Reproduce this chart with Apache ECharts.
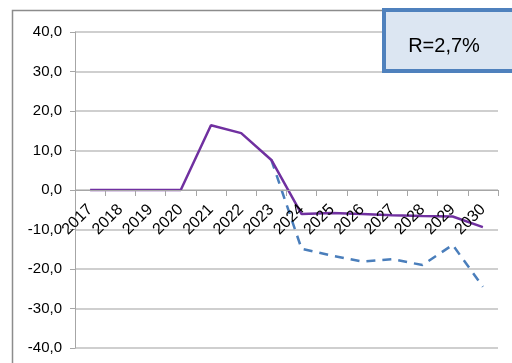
<!DOCTYPE html>
<html>
<head>
<meta charset="utf-8">
<script src="https://cdn.jsdelivr.net/npm/echarts@6/dist/echarts.min.js"></script>
<style>
  html, body { margin: 0; padding: 0; background: #fff; }
  #chart { width: 512px; height: 363px; }
</style>
</head>
<body>
<div id="chart"></div>
<script>
// Years on the category axis
var years = ['2017', '2018', '2019', '2020', '2021', '2022', '2023', '2024',
             '2025', '2026', '2027', '2028', '2029', '2030'];
// Base scenario (solid purple)
var baseSeries = [0, 0, 0, 0, 16.4, 14.4, 7.6, -6.1, -5.8, -6.1, -6.4, -6.6, -6.7, -9.4];
// Alternative scenario (dashed blue), starting from 2023
var altSeries = [null, null, null, null, null, null, 7.6, -14.9, -16.6, -18.1, -17.5, -19.0, -13.9, -24.5];
// Value axis range and step
var yMin = -40, yMax = 40, yStep = 10;
var boxText = 'R=2,7%';

var gridTop = 32, gridBottom = 15, chartH = 363;
var plotH = chartH - gridTop - gridBottom;
// Lift the category axis up to the zero line of the value axis
var zeroOffset = -plotH * (0 - yMin) / (yMax - yMin);

var chart = echarts.init(document.getElementById('chart'));
chart.setOption({
  animation: false,
  backgroundColor: '#ffffff',
  grid: { left: 75, right: 14, top: gridTop, bottom: gridBottom, containLabel: false, outerBoundsMode: 'none' },
  xAxis: {
    type: 'category',
    data: years,
    boundaryGap: true,
    position: 'bottom',
    offset: zeroOffset,
    z: 5,
    axisLine: { show: true, onZero: false, lineStyle: { color: '#a6a6a6', width: 1 } },
    axisTick: { show: true, inside: false, length: 6, alignWithLabel: false,
                lineStyle: { color: '#a6a6a6' } },
    axisLabel: { rotate: 45, margin: 17, color: '#000', fontSize: 16,
                 fontFamily: 'Liberation Sans, Arial, sans-serif', interval: 0 },
    splitLine: { show: false }
  },
  yAxis: {
    type: 'value',
    min: yMin, max: yMax, interval: yStep,
    axisLine: { show: true, lineStyle: { color: '#a6a6a6', width: 1 } },
    axisTick: { show: true, length: 5, lineStyle: { color: '#a6a6a6' } },
    axisLabel: {
      margin: 13, color: '#000', fontSize: 15,
      fontFamily: 'Liberation Sans, Arial, sans-serif',
      formatter: function (v) { return v.toFixed(1).replace('.', ','); }
    },
    splitLine: { show: true, lineStyle: { color: '#bfbfbf', width: 1.5 } }
  },
  series: [
    {
      name: 'alt',
      type: 'line',
      data: altSeries,
      symbol: 'none',
      z: 2,
      lineStyle: { color: '#4a7ebb', width: 2.5, type: [9, 7] }
    },
    {
      name: 'base',
      type: 'line',
      data: baseSeries,
      symbol: 'none',
      z: 3,
      lineStyle: { color: '#7030a0', width: 2.5 }
    }
  ],
  graphic: [
    {
      type: 'rect',
      silent: true,
      z: -10,
      shape: { x: 12.5, y: 10.5, width: 600, height: 400 },
      style: { fill: 'none', stroke: '#8c8c8c', lineWidth: 1.5 }
    },
    {
      type: 'rect',
      z: 100,
      shape: { x: 384, y: 10, width: 140, height: 61 },
      style: { fill: '#dce6f2', stroke: '#4f81bd', lineWidth: 4 }
    },
    {
      type: 'text',
      z: 101,
      style: {
        x: 444, y: 46, text: boxText,
        textAlign: 'center', textVerticalAlign: 'middle',
        font: '20px "Liberation Sans", Arial, sans-serif', fill: '#000'
      }
    }
  ]
});
</script>
</body>
</html>
